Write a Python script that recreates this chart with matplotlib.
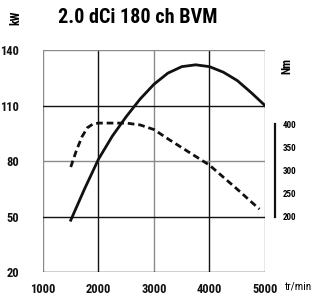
import matplotlib.pyplot as plt
from matplotlib import font_manager

# values
rpm_ticks = [1000, 2000, 3000, 4000, 5000]
kw_ticks = [20, 50, 80, 110, 140]
nm_ticks = [200, 250, 300, 350, 400]

power_rpm = [1500, 1750, 2000, 2250, 2500, 2750, 3000, 3250, 3500, 3750, 4000, 4250, 4500, 4750, 5000]
power_kw = [48, 65, 81, 93.5, 104, 113.5, 121.5, 127.5, 131, 132, 131, 128, 123.5, 117, 110]

torque_rpm = [1500, 1600, 1700, 1800, 1900, 2000, 2250, 2500, 2750, 3000, 3250, 3500, 3750, 4000, 4250, 4500, 4750, 4900]
torque_nm = [307, 342, 372, 392, 400, 402, 402, 402, 398, 388, 368, 349, 330, 311, 285, 259, 232, 216]

# pick a condensed sans if one is installed
installed = {f.name for f in font_manager.fontManager.ttflist}
narrow = [n for n in ['Roboto Condensed', 'Archivo Narrow', 'PT Sans Narrow', 'Liberation Sans Narrow',
                      'Open Sans Condensed', 'Sofia Sans Condensed', 'Encode Sans Condensed']
          if n in installed]
FONT = narrow[:1] + ['DejaVu Sans']
plt.rcParams['font.family'] = FONT
W = 'heavy'

fig = plt.figure(figsize=(3.19, 2.98), dpi=100)
ax = fig.add_axes([0.1348, 0.0872, 0.6959, 0.745])

ax.set_xlim(1000, 5000)
ax.set_ylim(20, 140)

# grid, alternating grey and black like the original
v_cols = ['#8a8a8a', '#111111', '#8a8a8a', '#111111', '#8a8a8a']
h_cols = ['#111111', '#111111', '#8a8a8a', '#111111', '#8a8a8a']
for x, c in zip(rpm_ticks, v_cols):
    ax.axvline(x, color=c, lw=1.0, zorder=1)
for y, c in zip(kw_ticks, h_cols):
    ax.axhline(y, color=c, lw=1.0, zorder=1)
for s in ax.spines.values():
    s.set_visible(False)

ax.plot(power_rpm, power_kw, color='#111111', lw=2.0, solid_joinstyle='round', zorder=3)

ax.set_xticks(rpm_ticks)
ax.set_yticks(kw_ticks)
ax.tick_params(length=0)
ax.tick_params(axis='y', pad=17)
ax.tick_params(axis='x', pad=8)
for lab in ax.get_xticklabels() + ax.get_yticklabels():
    lab.set_fontweight(W)
    lab.set_fontsize(9)
    lab.set_color('#111111')

# torque scale on the right (4 Nm per kW unit)
ax2 = ax.twinx()
ax2.set_ylim(80, 560)
ax2.plot(torque_rpm, torque_nm, color='#111111', lw=2.0, dashes=(2.4, 1.4), zorder=3)
for k in ['top', 'left', 'bottom']:
    ax2.spines[k].set_visible(False)
ax2.spines['right'].set_position(('outward', 7))
ax2.spines['right'].set_bounds(200, 400)
ax2.spines['right'].set_linewidth(1.6)
ax2.spines['right'].set_color('#111111')
ax2.set_yticks(nm_ticks)
ax2.tick_params(length=0, pad=6)
for lab in ax2.get_yticklabels():
    lab.set_fontweight(W)
    lab.set_fontsize(6.5)

fig.text(0.05, 0.94, 'kW', rotation=90, fontsize=8.5, fontweight=W, ha='center', va='center')
fig.text(0.182, 0.94, '2.0 dCi 180 ch BVM', fontsize=14.5, fontweight=W, ha='left', va='center')
fig.text(0.9, 0.78, 'Nm', rotation=90, fontsize=8.5, fontweight=W, ha='center', va='center')
fig.text(0.893, 0.04, 'tr/min', fontsize=8, ha='left', va='center')

fig.savefig('out.png', dpi=100)
